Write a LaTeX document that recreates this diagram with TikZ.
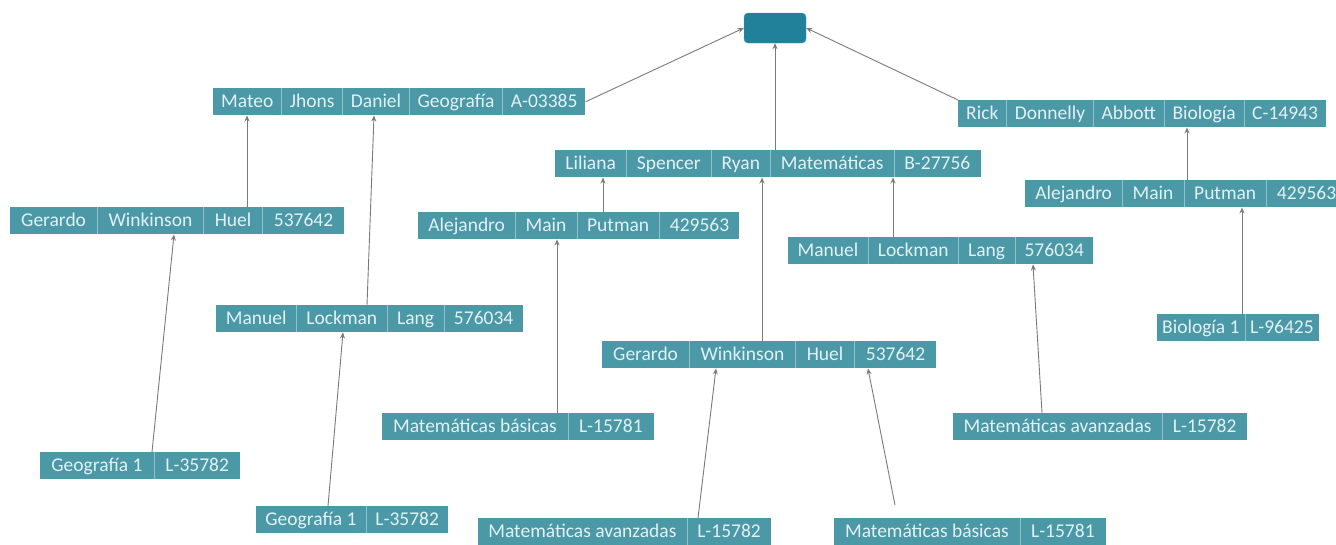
\documentclass[tikz,border=0pt]{standalone}
\usepackage{fontspec}
\setmainfont{Carlito}
\usepackage{array}
\usetikzlibrary{arrows.meta}

\definecolor{recfill}{HTML}{4B98A6}
\definecolor{rectext}{HTML}{E2F1F4}
\colorlet{recrule}{recfill!60!white}
\definecolor{rootfill}{HTML}{21809A}
\definecolor{linkgray}{HTML}{7A7A7A}

\newcolumntype{I}{!{\color{recrule}\vrule width 0.5pt}}
\renewcommand\arraystretch{1.23}
\newcommand{\sep}[1]{\setlength\tabcolsep{#1pt}}

\tikzset{
  rec/.style={fill=recfill, text=rectext, inner sep=0pt, anchor=north west,
    font=\fontsize{19.5}{22}\selectfont},
  link/.style={draw=linkgray, line width=0.9pt, -{Stealth[length=6pt,width=5pt]}}
}

\begin{document}
\begin{tikzpicture}[x=1pt,y=-1pt]
      \useasboundingbox (0,0) rectangle (1336,544);
      % top
      \node[fill=rootfill, draw=rootfill!80!white, rounded corners=4pt, minimum width=62pt, minimum height=30pt, inner sep=0pt] (root) at (775,28) {};
      \node[rec] (mateo) at (213,88) {\sep{8}\begin{tabular}{cIcIcIcIc}Mateo & Jhons & Daniel & Geografía & A-03385\end{tabular}};
      \node[rec] (rick) at (958,100) {\sep{8}\begin{tabular}{cIcIcIcIc}Rick & Donnelly & Abbott & Biología & C-14943\end{tabular}};
      \node[rec] (liliana) at (555,150) {\sep{10.2}\begin{tabular}{cIcIcIcIc}Liliana & Spencer & Ryan & Matemáticas & B-27756\end{tabular}};
      % middle
      \node[rec] (gerL) at (10,207) {\sep{11}\begin{tabular}{cIcIcIc}Gerardo & Winkinson & Huel & 537642\end{tabular}};
      \node[rec] (aleM) at (418,212) {\sep{10.1}\begin{tabular}{cIcIcIc}Alejandro & Main & Putman & 429563\end{tabular}};
      \node[rec] (aleR) at (1025,180) {\sep{10.1}\begin{tabular}{cIcIcIc}Alejandro & Main & Putman & 429563\end{tabular}};
      \node[rec] (manR) at (788,237) {\sep{9.5}\begin{tabular}{cIcIcIc}Manuel & Lockman & Lang & 576034\end{tabular}};
      \node[rec] (manL) at (216,305) {\sep{9.7}\begin{tabular}{cIcIcIc}Manuel & Lockman & Lang & 576034\end{tabular}};
      \node[rec] (gerC) at (602,341) {\sep{11}\begin{tabular}{cIcIcIc}Gerardo & Winkinson & Huel & 537642\end{tabular}};
      \node[rec] (bio) at (1157,314) {\sep{5}\begin{tabular}{cIc}Biología 1 & L-96425\end{tabular}};
      % bottom
      \node[rec] (matbM) at (382,413) {\sep{10.9}\begin{tabular}{cIc}Matemáticas básicas & L-15781\end{tabular}};
      \node[rec] (mataR) at (953,413) {\sep{10.4}\begin{tabular}{cIc}Matemáticas avanzadas & L-15782\end{tabular}};
      \node[rec] (geoL) at (40,452) {\sep{11.2}\begin{tabular}{cIc}Geografía 1 & L-35782\end{tabular}};
      \node[rec] (geoB) at (256,506) {\sep{9.2}\begin{tabular}{cIc}Geografía 1 & L-35782\end{tabular}};
      \node[rec] (mataB) at (478,518) {\sep{10.2}\begin{tabular}{cIc}Matemáticas avanzadas & L-15782\end{tabular}};
      \node[rec] (matbB) at (834,518) {\sep{10.9}\begin{tabular}{cIc}Matemáticas básicas & L-15781\end{tabular}};

      % links, child to parent
      \draw[link] (mateo.east) -- (root.west);
      \draw[link] (rick.north west) -- (root.east);
      \draw[link] ([xshift=220pt]liliana.north west) -- (root.south);
      \draw[link] ([xshift=237pt]gerL.north west) -- ([xshift=34pt]mateo.south west);
      \draw[link] ([xshift=151pt]manL.north west) -- ([xshift=161pt]mateo.south west);
      \draw[link] ([xshift=185pt]aleM.north west) -- ([xshift=48pt]liliana.south west);
      \draw[link] ([xshift=160pt]gerC.north west) -- ([xshift=207pt]liliana.south west);
      \draw[link] ([xshift=105pt]manR.north west) -- ([xshift=338pt]liliana.south west);
      \draw[link] ([xshift=162pt]aleR.north west) -- ([xshift=229pt]rick.south west);
      \draw[link] ([xshift=85pt]bio.north west) -- ([xshift=217pt]aleR.south west);
      \draw[link] ([xshift=112pt]geoL.north west) -- ([xshift=164pt]gerL.south west);
      \draw[link] ([xshift=72pt]geoB.north west) -- ([xshift=127pt]manL.south west);
      \draw[link] ([xshift=175pt]matbM.north west) -- ([xshift=139pt]aleM.south west);
      \draw[link] ([xshift=220pt]mataB.north west) -- ([xshift=114pt]gerC.south west);
      \draw[link] ([xshift=61pt,yshift=13pt]matbB.north west) -- ([xshift=266pt]gerC.south west);
      \draw[link] ([xshift=89pt]mataR.north west) -- ([xshift=245pt]manR.south west);
\end{tikzpicture}
\end{document}
